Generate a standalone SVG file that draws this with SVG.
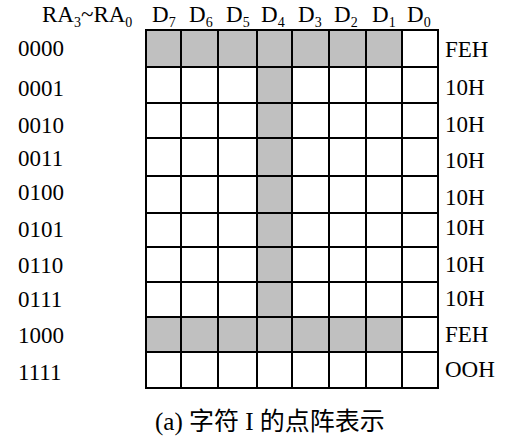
<svg xmlns="http://www.w3.org/2000/svg" width="521" height="437" viewBox="0 0 521 437">
<style>
.t{font-family:"Liberation Serif","Times New Roman",serif;font-size:23px;fill:#000}
.s{font-size:14px}
.on{fill:#c0c0c0}
.off{fill:#fff}
.ln{stroke:#000;stroke-width:2;fill:none}
.cap{font-family:"Liberation Serif","Noto Sans CJK SC",serif;font-size:25px;fill:#000}
</style>
<rect width="521" height="437" fill="#fff"/>
<g id="header" class="t">
<text x="42" y="22">RA<tspan class="s" dy="5">3</tspan><tspan dy="-5">~RA</tspan><tspan class="s" dy="5">0</tspan></text>
<text x="152" y="22">D<tspan class="s" dy="5">7</tspan></text>
<text x="189" y="22">D<tspan class="s" dy="5">6</tspan></text>
<text x="226" y="22">D<tspan class="s" dy="5">5</tspan></text>
<text x="261" y="22">D<tspan class="s" dy="5">4</tspan></text>
<text x="298" y="22">D<tspan class="s" dy="5">3</tspan></text>
<text x="334" y="22">D<tspan class="s" dy="5">2</tspan></text>
<text x="372" y="22">D<tspan class="s" dy="5">1</tspan></text>
<text x="407" y="22">D<tspan class="s" dy="5">0</tspan></text>
</g>
<g id="cells">
<rect class="on" x="146" y="30" width="256" height="37"/>
<rect class="on" x="257" y="67" width="35" height="250"/>
<rect class="on" x="146" y="317" width="256" height="35"/>
</g>
<g id="grid" class="ln">
<rect x="146" y="30" width="292" height="358"/>
<path d="M181 30V388M218 30V388M257 30V388M292 30V388M329 30V388M366 30V388M402 30V388"/>
<path d="M146 67H438M146 103H438M146 138H438M146 176H438M146 213H438M146 247H438M146 282H438M146 317H438M146 352H438"/>
</g>
<g id="addresses" class="t">
<text x="18" y="56">0000</text>
<text x="18" y="96">0001</text>
<text x="18" y="133">0010</text>
<text x="18" y="166">0011</text>
<text x="18" y="200">0100</text>
<text x="18" y="237">0101</text>
<text x="18" y="273">0110</text>
<text x="18" y="307">0111</text>
<text x="18" y="343">1000</text>
<text x="18" y="380">1111</text>
</g>
<g id="codes" class="t">
<text x="445" y="57">FEH</text>
<text x="445" y="95">10H</text>
<text x="445" y="132">10H</text>
<text x="445" y="168">10H</text>
<text x="445" y="205">10H</text>
<text x="445" y="235">10H</text>
<text x="445" y="272">10H</text>
<text x="445" y="306">10H</text>
<text x="445" y="342">FEH</text>
<text x="445" y="377">OOH</text>
</g>
<g id="caption">
<text class="cap" x="155" y="430">(a) 字符 I 的点阵表示</text>
</g>
</svg>
